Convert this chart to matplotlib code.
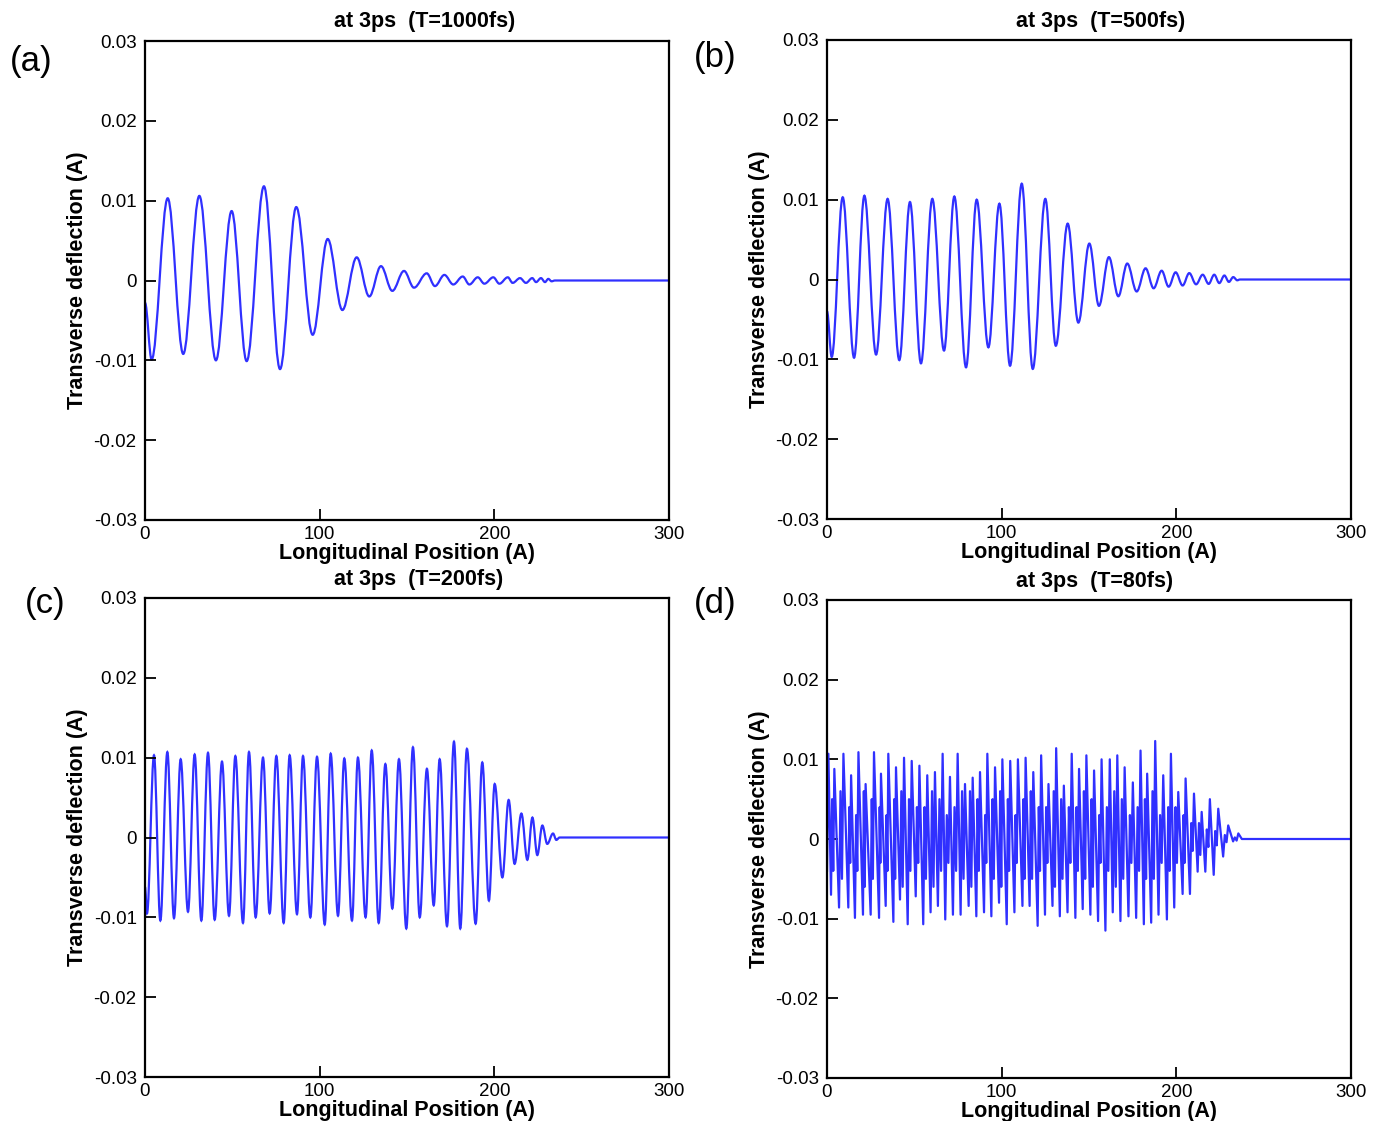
import matplotlib
matplotlib.use('Agg')
import matplotlib.pyplot as plt
from matplotlib.path import Path
from matplotlib.patches import PathPatch

plt.rcParams['font.family'] = ['Liberation Sans', 'DejaVu Sans']

# ---------------- data (extrema) ----------------
titles = ["at 3ps  (T=1000fs)", "at 3ps  (T=500fs)", "at 3ps  (T=200fs)", "at 3ps  (T=80fs)"]
panel_labels = ["(a)", "(b)", "(c)", "(d)"]
x_ticks = [0, 100, 200, 300]
y_ticks = [-0.03, -0.02, -0.01, 0, 0.01, 0.02, 0.03]
y_tick_labels = ["-0.03", "-0.02", "-0.01", "0", "0.01", "0.02", "0.03"]

a_x = [0, 3.8, 13.0, 21.9, 31.1, 40.6, 49.6, 58.2, 68.1, 77.3, 86.6, 96.0, 104.6, 113.0,
       121.2, 128.4, 135.1, 141.6, 148.3, 154.0, 161.3, 166.0, 171.4, 176.5, 181.9, 185.7,
       190.5, 194.3, 199.4, 202.9, 207.7, 210.5, 214.7, 218.1, 221.7, 223.9, 226.7, 229.0,
       230.9, 232.8, 234.7, 300]
a_y = [-0.0028, -0.0099, 0.0103, -0.0092, 0.0106, -0.0100, 0.0087, -0.0101, 0.0118, -0.0111,
       0.0092, -0.0068, 0.0052, -0.0037, 0.0029, -0.0020, 0.0018, -0.0013, 0.0012, -0.0009,
       0.0009, -0.0007, 0.0007, -0.0005, 0.0005, -0.0005, 0.0004, -0.0004, 0.0004, -0.0004,
       0.0004, -0.0003, 0.0003, -0.0003, 0.0003, -0.0002, 0.0003, -0.0002, 0.0002, -0.0001,
       0, 0]

b_x = [0, 2.7, 9.0, 15.5, 21.4, 28.1, 34.7, 41.4, 47.5, 53.8, 60.3, 67.0, 72.9, 79.6, 85.7,
       92.4, 98.7, 104.8, 111.5, 117.8, 125.0, 131.0, 137.8, 143.9, 150.2, 155.7, 161.4, 166.8,
       171.9, 177.3, 182.4, 187.0, 191.6, 195.6, 199.6, 203.6, 207.4, 211.3, 215.1, 218.5,
       221.7, 224.6, 227.5, 230.1, 232.6, 234.9, 236.4, 300]
b_y = [-0.0040, -0.0097, 0.0103, -0.0098, 0.0105, -0.0094, 0.0101, -0.0101, 0.0097, -0.0105,
       0.0101, -0.0089, 0.0104, -0.0110, 0.0100, -0.0085, 0.0095, -0.0108, 0.0120, -0.0112,
       0.0101, -0.0083, 0.0070, -0.0054, 0.0045, -0.0033, 0.0028, -0.0021, 0.0020, -0.0015,
       0.0014, -0.0011, 0.0011, -0.0009, 0.0009, -0.00075, 0.0008, -0.0006, 0.0006, -0.00055,
       0.0006, -0.00045, 0.0005, -0.0003, 0.0003, -0.0001, 0, 0]

c_x = [0, 1.15, 5.15, 8.78, 12.79, 16.6, 20.42, 24.62, 28.43, 32.25, 36.07, 39.89, 44.08,
       48.09, 51.72, 56.1, 59.54, 63.36, 67.56, 71.37, 75.19, 79.39, 82.82, 87.02, 90.46,
       94.66, 98.47, 102.9, 106.3, 110.5, 114.1, 118.5, 121.9, 126.3, 129.8, 133.8, 137.6,
       141.6, 145.4, 149.6, 153.4, 157.3, 161.4, 165.3, 168.7, 172.9, 176.9, 180.5, 184.3,
       189.3, 193.1, 196.9, 200.2, 204.6, 208.2, 211.6, 215.5, 218.9, 221.8, 224.6, 227.5,
       230.3, 233.6, 235.5, 237.4, 300]
c_y = [-0.0062, -0.0095, 0.0103, -0.0104, 0.0107, -0.0101, 0.0098, -0.0093, 0.0104, -0.0104,
       0.0106, -0.0103, 0.0095, -0.0098, 0.0102, -0.0107, 0.0107, -0.0100, 0.0100, -0.0095,
       0.0102, -0.0107, 0.0103, -0.0096, 0.0102, -0.0100, 0.0101, -0.0109, 0.0105, -0.0098,
       0.0099, -0.0104, 0.0100, -0.0100, 0.0109, -0.0107, 0.0092, -0.0089, 0.0098, -0.0114,
       0.0113, -0.0100, 0.0086, -0.0085, 0.0098, -0.0111, 0.0120, -0.0114, 0.0111, -0.0108,
       0.0094, -0.0079, 0.0067, -0.0050, 0.0047, -0.0033, 0.0030, -0.0028, 0.0025, -0.0022,
       0.0015, -0.0008, 0.0005, -0.0003, 0, 0]

# panel (d): tall spike tops and bottoms, plus the medium strokes between them
d_top_x = [0.8, 4.2, 9.4, 13.8, 18.0, 22.1, 26.9, 30.9, 35.1, 39.5, 44.1, 48.5, 52.9, 57.4,
           61.8, 66.2, 70.4, 74.8, 79.0, 83.4, 87.6, 91.8, 96.2, 100.4, 104.9, 109.3, 113.7,
           118.1, 122.6, 126.8, 131.2, 135.6, 140.1, 144.3, 148.5, 152.9, 157.2, 161.9,
           166.2, 170.4, 175.1, 179.5, 183.3, 187.9, 192.5, 196.9, 201.1, 205.3, 210.1,
           214.5, 219.2, 224.0, 229.7, 235.5]
d_top_y = [0.0107, 0.0088, 0.0107, 0.0080, 0.0109, 0.0069, 0.0109, 0.0082, 0.0107, 0.0090,
           0.0102, 0.0098, 0.0092, 0.0080, 0.0084, 0.0107, 0.0078, 0.0107, 0.0069, 0.0077,
           0.0084, 0.0107, 0.0090, 0.0100, 0.0098, 0.0100, 0.0102, 0.0084, 0.0105, 0.0069,
           0.0114, 0.0067, 0.0107, 0.0088, 0.0105, 0.0086, 0.0100, 0.0100, 0.0105, 0.0090,
           0.0071, 0.0111, 0.0082, 0.0123, 0.0080, 0.0107, 0.0059, 0.0076, 0.0057, 0.0034,
           0.0050, 0.0038, 0.0017, 0.0007]
d_bot_x = [2.3, 6.9, 12.2, 16.0, 20.6, 25.0, 29.8, 33.6, 38.0, 41.8, 46.2, 50.8, 55.1, 59.3,
           63.5, 67.7, 72.1, 76.5, 81.1, 85.5, 89.9, 94.1, 98.5, 102.9, 107.3, 111.9, 116.0,
           120.6, 124.8, 129.1, 133.3, 137.7, 142.2, 146.4, 150.8, 155.2, 159.4, 163.6,
           168.0, 172.6, 177.0, 181.4, 185.6, 189.8, 194.6, 198.8, 203.6, 207.8, 212.2,
           216.6, 221.4, 226.8, 232.5]
d_bot_y = [-0.0070, -0.0086, -0.0086, -0.0099, -0.0095, -0.0095, -0.0099, -0.0084, -0.0104,
           -0.0076, -0.0107, -0.0072, -0.0107, -0.0092, -0.0084, -0.0101, -0.0095, -0.0095,
           -0.0084, -0.0097, -0.0092, -0.0097, -0.0080, -0.0107, -0.0092, -0.0084, -0.0084,
           -0.0109, -0.0095, -0.0084, -0.0097, -0.0092, -0.0099, -0.0088, -0.0095, -0.0103,
           -0.0115, -0.0092, -0.0103, -0.0097, -0.0099, -0.0107, -0.0105, -0.0095, -0.0101,
           -0.0086, -0.0069, -0.0069, -0.0041, -0.0041, -0.0045, -0.0022, -0.0003]
# medium stroke between each bottom and the next top: high point then low point
d_mid_hi = [0.005, 0.006, 0.004, 0.003, 0.006, 0.005, 0.004, 0.003, 0.005, 0.006,
            0.005, 0.004, 0.004, 0.006, 0.005, 0.003, 0.004, 0.006, 0.006, 0.005,
            0.003, 0.005, 0.006, 0.005, 0.003, 0.005, 0.006, 0.004, 0.004, 0.006,
            0.005, 0.004, 0.004, 0.006, 0.005, 0.003, 0.004, 0.006, 0.005, 0.003,
            0.004, 0.005, 0.006, 0.003, 0.004, 0.004, 0.003, 0.002, 0.002, 0.0012,
            0.001, 0.0005, 0.0002]
d_mid_lo = [-0.004, -0.005, -0.003, -0.004, -0.006, -0.005, -0.003, -0.004, -0.005, -0.006,
            -0.004, -0.003, -0.005, -0.006, -0.004, -0.003, -0.004, -0.005, -0.006, -0.004,
            -0.003, -0.005, -0.006, -0.004, -0.003, -0.005, -0.005, -0.004, -0.003, -0.006,
            -0.005, -0.003, -0.004, -0.005, -0.006, -0.003, -0.004, -0.006, -0.005, -0.003,
            -0.004, -0.005, -0.005, -0.003, -0.004, -0.003, -0.003, -0.0015, -0.002, -0.001,
            -0.0008, -0.0004, -0.0002]
d_start = (0, -0.004)
d_end_x = [237.5, 300]
d_end_y = [0, 0]

line_color = '#3030ff'


def smooth_curve(ax, xs, ys):
    verts = [(xs[0], ys[0])]
    codes = [Path.MOVETO]
    for i in range(1, len(xs)):
        x0, y0 = xs[i - 1], ys[i - 1]
        x1, y1 = xs[i], ys[i]
        dx = x1 - x0
        verts += [(x0 + dx * 0.36, y0), (x1 - dx * 0.36, y1), (x1, y1)]
        codes += [Path.CURVE4] * 3
    patch = PathPatch(Path(verts, codes), facecolor='none', edgecolor=line_color,
                      lw=1.6, transform=ax.transData)
    ax.add_patch(patch)


fig = plt.figure(figsize=(13.8, 11.21), dpi=100)
W, H = 1380.0, 1121.0
boxes = [(145, 41, 669, 520), (827, 40, 1351, 519), (145, 598, 669, 1077), (827, 600, 1351, 1078)]
label_pos = [(31, 61), (715, 57), (45, 603), (715, 603)]

axes = []
for i, (l, t, r, b) in enumerate(boxes):
    ax = fig.add_axes([l / W, 1 - b / H, (r - l) / W, (b - t) / H])
    axes.append(ax)
    ax.set_xlim(0, 300)
    ax.set_ylim(-0.03, 0.03)
    ax.set_xticks(x_ticks)
    ax.set_xticklabels([str(v) for v in x_ticks])
    ax.set_yticks(y_ticks)
    ax.set_yticklabels(y_tick_labels)
    ax.tick_params(direction='in', length=8, width=1.3, labelsize=13.5, top=False, right=False)
    ax.tick_params(axis='x', pad=4)
    ax.tick_params(axis='y', pad=6)
    for s in ax.spines.values():
        s.set_linewidth(1.6)
    ax.set_xlabel("Longitudinal Position (A)", fontsize=15.5, fontweight='bold', labelpad=0)
    ax.set_ylabel("Transverse deflection (A)", fontsize=15.5, fontweight='bold', labelpad=4)
    ax.text(0.36, 1 + 19 / (b - t), titles[i], transform=ax.transAxes, ha='left', va='center',
            fontsize=15.5, fontweight='bold')
    fig.text(label_pos[i][0] / W, 1 - label_pos[i][1] / H, panel_labels[i], ha='center',
             va='center', fontsize=25)

smooth_curve(axes[0], a_x, a_y)
smooth_curve(axes[1], b_x, b_y)
smooth_curve(axes[2], c_x, c_y)

# panel (d): polyline top -> bottom -> medium high -> medium low -> next top
d_x = [d_start[0]]
d_y = [d_start[1]]
for k in range(len(d_top_x)):
    d_x.append(d_top_x[k]); d_y.append(d_top_y[k])
    if k < len(d_bot_x):
        d_x.append(d_bot_x[k]); d_y.append(d_bot_y[k])
        if k + 1 < len(d_top_x):
            gap = d_top_x[k + 1] - d_bot_x[k]
            d_x.append(d_bot_x[k] + gap * 0.33); d_y.append(d_mid_hi[k])
            d_x.append(d_bot_x[k] + gap * 0.67); d_y.append(d_mid_lo[k])
d_x += d_end_x
d_y += d_end_y
axes[3].plot(d_x, d_y, color=line_color, lw=1.6)

fig.savefig('out.png', dpi=100)
